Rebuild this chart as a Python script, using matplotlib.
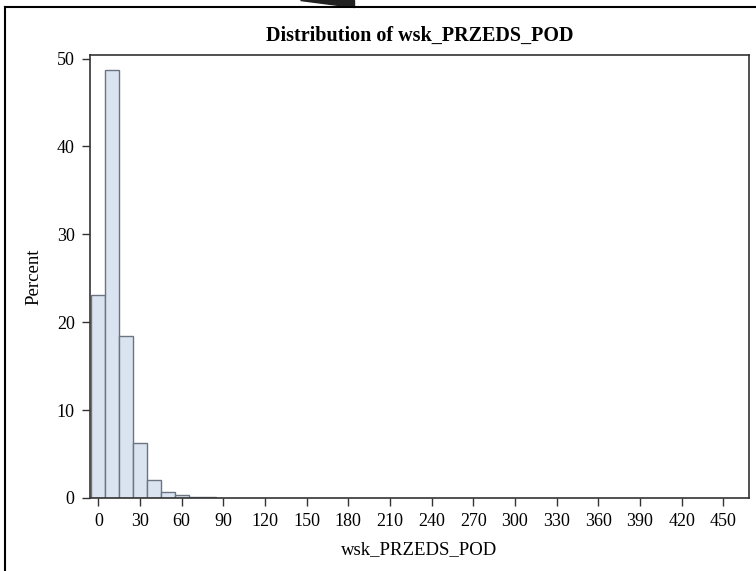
import numpy as np
import matplotlib.pyplot as plt
from matplotlib.patches import Polygon
from matplotlib.lines import Line2D

# histogram of wsk_PRZEDS_POD, bins of width 10 centred on the midpoints
midpoints = [0, 10, 20, 30, 40, 50, 60, 70, 80]
percent = [23.1, 48.7, 18.4, 6.3, 2.05, 0.65, 0.3, 0.1, 0.06]
xticks = list(range(0, 451, 30))
yticks = [0, 10, 20, 30, 40, 50]

plt.rcParams['font.family'] = ['Liberation Serif', 'DejaVu Serif']

fig = plt.figure(figsize=(7.56, 5.71), dpi=100)
ax = fig.add_axes([90 / 756, 1 - 498 / 571, (749 - 90) / 756, (498 - 55) / 571])

ax.bar(midpoints, percent, width=10, color='#dae3f0', edgecolor='#6b7480', linewidth=1.0)

ax.set_xlim(-6, 468.5)
ax.set_ylim(0, 50.4)
ax.set_xticks(xticks)
ax.set_yticks(yticks)
ax.tick_params(direction='out', length=6, width=1.0, color='#333333', labelsize=13, pad=5)
for s in ax.spines.values():
    s.set_color('#333333')
    s.set_linewidth(1.2)

ax.set_xlabel('wsk_PRZEDS_POD', fontsize=13.5, labelpad=8)
ax.set_ylabel('Percent', fontsize=13.5, labelpad=10)
ax.set_title('Distribution of wsk_PRZEDS_POD', fontsize=14.5, fontweight='bold', pad=10)

# screenshot frame and arrow remnant at the top
fig.add_artist(Line2D([5 / 756, 5 / 756], [0, 1 - 7 / 571], color='black', lw=1.5))
fig.add_artist(Line2D([5 / 756, 1], [1 - 7 / 571, 1 - 7 / 571], color='black', lw=1.5))
fig.add_artist(Polygon([[300 / 756, 1], [354 / 756, 1], [354 / 756, 1 - 7 / 571]],
                       closed=True, color='#222222', transform=fig.transFigure))

fig.savefig('out.png', dpi=100)
